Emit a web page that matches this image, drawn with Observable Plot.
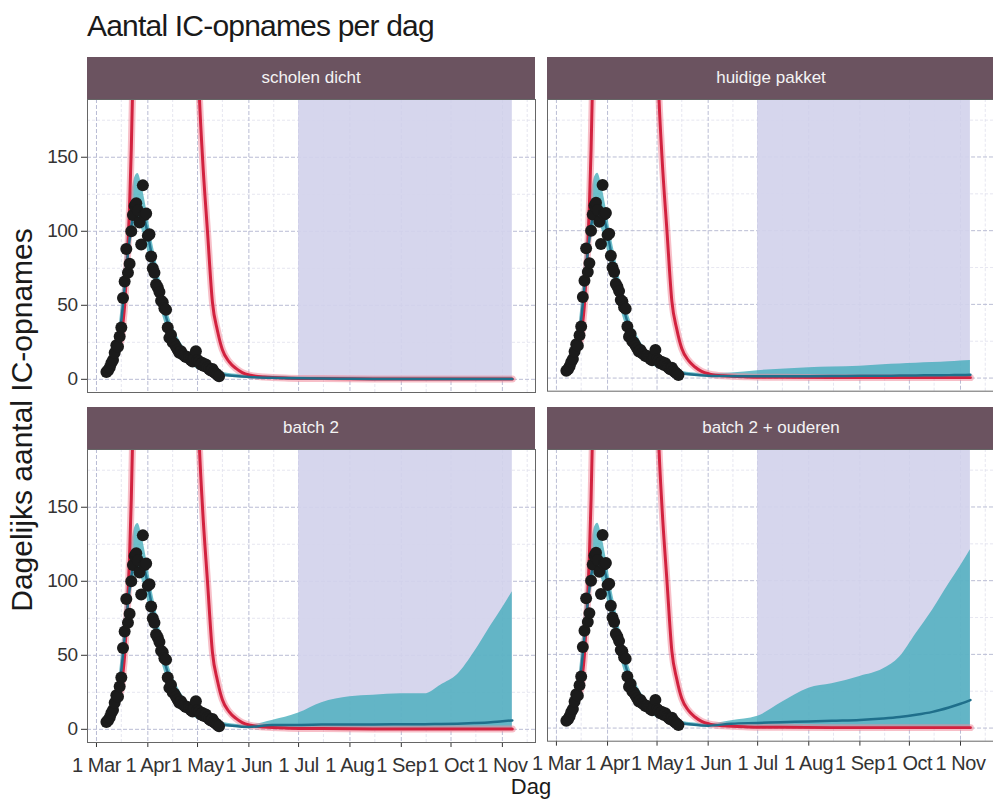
<!DOCTYPE html>
<html><head><meta charset="utf-8">
<script src="https://cdn.jsdelivr.net/npm/d3@7"></script>
<script src="https://cdn.jsdelivr.net/npm/@observablehq/plot@0.6"></script>
<style>
body{margin:0;background:#fff;font-family:"Liberation Sans",Arial,sans-serif;}
#root{position:relative;width:993px;height:806px;overflow:hidden;background:#fff;}
.title{position:absolute;left:87px;top:11px;font-size:30px;line-height:1;letter-spacing:-0.8px;color:#1a1a1a;white-space:nowrap;}
.strip{position:absolute;height:42px;background:#6b5360;color:#f4f4f4;font-size:17px;display:flex;align-items:center;justify-content:center;}
.panel{position:absolute;}
.panel svg{overflow:visible;}
.ytitle{position:absolute;left:22px;top:420px;transform:translate(-50%,-50%) rotate(-90deg);font-size:30px;line-height:1;white-space:nowrap;color:#1a1a1a;}
.xtitle{position:absolute;left:531px;top:776px;transform:translateX(-50%);font-size:22px;line-height:1;color:#1a1a1a;}
</style></head><body><div id="root"></div><script>
// ---------- data ----------
const scenarios = ["scholen dicht", "huidige pakket", "batch 2", "batch 2 + ouderen"];
const tickDates = ["2020-03-01","2020-04-01","2020-05-01","2020-06-01","2020-07-01","2020-08-01","2020-09-01","2020-10-01","2020-11-01"];
const minorDates = ["2020-03-16","2020-04-16","2020-05-16","2020-06-16","2020-07-16","2020-08-16","2020-09-16","2020-10-16","2020-11-16"];
const yTicks = [0, 50, 100, 150];
const yMinor = [25, 75, 125, 175];
const shadeStart = "2020-07-01", shadeEnd = "2020-11-07";

// observed daily IC admissions, one value per day from obsStart
const obsStart = "2020-03-07";
const obsValues = [5,6,8,11,13,18,23,22,29,35,55,66,88,72,78,100,111,117,119,114,106,91,131,111,112,
  97,98,83,75,72,64,62,59,53,52,48,47,35,28,30,25,24,22,20,18,19,17,16,15,15,14,13,12,14,19,
  13,12,10,11,9,10,8,7,6,7,5,4,3,2];

// model fit (common to all scenarios) up to 1 June
const fitDates = ["2020-03-06","2020-03-09","2020-03-12","2020-03-14","2020-03-16","2020-03-18","2020-03-20","2020-03-22","2020-03-24","2020-03-26","2020-03-28","2020-03-30","2020-04-01","2020-04-03","2020-04-05","2020-04-08","2020-04-11","2020-04-14","2020-04-18","2020-04-22","2020-04-26","2020-05-01","2020-05-06","2020-05-11","2020-05-16","2020-05-22","2020-06-01"];
const fitMid  = [4,8,15,24,40,62,85,103,114,118,115,108,98,86,75,60,46,35,25,18,13.5,9,6.5,4.5,3.3,2.4,1.6];
const fitLow  = [3,6,12,19,33,52,74,92,102,106,102,96,86,75,64,51,39,29,20.5,14.5,10.5,6.8,4.8,3.2,2.2,1.4,0.9];
const fitHigh = [6,11,19,30,50,78,104,124,136,139,133,122,110,97,86,70,55,42,31,23,17,11.8,8.6,6.2,4.7,3.6,3];

// scenario projections after 1 June
const projDates = ["2020-06-15","2020-07-01","2020-07-15","2020-08-01","2020-08-15","2020-09-01","2020-09-15","2020-09-25","2020-10-05","2020-10-15","2020-10-25","2020-11-01","2020-11-07"];
const projLow = [0.5,0.3,0.2,0.2,0.2,0.2,0.2,0.2,0.2,0.2,0.2,0.2,0.2];
const scholenMid  = [1.0,0.7,0.5,0.4,0.3,0.3,0.2,0.2,0.2,0.2,0.2,0.2,0.2];
const scholenHigh = [2.2,1.8,1.6,1.5,1.5,1.5,1.5,1.5,1.5,1.5,1.5,1.5,1.5];
const huidigMid   = [1.3,1.2,1.2,1.3,1.4,1.5,1.6,1.7,1.8,1.9,2.0,2.1,2.2];
const huidigHigh  = [3.5,5,6,7,7.5,8,9,9.5,10,10.5,11,11.5,12];
const batchMid    = [3,3,3.2,3.3,3.3,3.4,3.5,3.6,3.8,4.2,4.8,5.5,6];
const batchHigh   = [6,11,18,22,23,24,24,30,37,52,70,82,93];
const ouderenMid  = [3,3.5,4,4.5,5,5.5,6.5,7.5,9,11,14,16.5,19];
const ouderenHigh = [5,8,17,27,30,35,40,48,64,80,98,110,121];

// unmitigated scenario (red)
const redDates  = ["2020-03-06","2020-03-10","2020-03-13","2020-03-16","2020-03-17","2020-03-18","2020-03-19","2020-03-20","2020-03-21","2020-03-22","2020-03-23","2020-03-25","2020-04-15","2020-04-28","2020-05-01","2020-05-02","2020-05-04","2020-05-07","2020-05-10","2020-05-13","2020-05-16","2020-05-20","2020-05-24","2020-05-28","2020-06-02","2020-06-10","2020-06-25","2020-07-15","2020-08-15","2020-09-15","2020-10-15","2020-11-07"];
const redValues = [4,10,19,27,38,50,70,88,118,155,205,330,700,330,230,195,150,100,52,33,20,12,7.5,4.5,2.7,1.5,0.8,0.5,0.3,0.3,0.3,0.3];

// ---------- helpers / tables ----------
const P = d3.isoParse;
const xDomain = [new Date(Date.UTC(2020,1,24,14)), new Date(Date.UTC(2020,10,21,0))];
const yDomain = [-8.9, 189];
const fmt = d3.utcFormat("%-d %b");
const midMap  = {"scholen dicht": scholenMid, "huidige pakket": huidigMid, "batch 2": batchMid, "batch 2 + ouderen": ouderenMid};
const highMap = {"scholen dicht": scholenHigh, "huidige pakket": huidigHigh, "batch 2": batchHigh, "batch 2 + ouderen": ouderenHigh};

const obs = obsValues.map((v, i) => ({date: d3.utcDay.offset(P(obsStart), i), value: v}));
const red = redDates.map((d, i) => ({date: P(d), value: redValues[i]}));
function seriesFor(s) {
  const a = fitDates.map((d, i) => ({date: P(d), mid: fitMid[i], low: fitLow[i], high: fitHigh[i]}));
  const b = projDates.map((d, i) => ({date: P(d), mid: midMap[s][i], low: projLow[i], high: highMap[s][i]}));
  return a.concat(b);
}

const root = document.getElementById("root");
function addDiv(cls, text, style) {
  const d = document.createElement("div");
  d.className = cls; d.textContent = text;
  Object.assign(d.style, style || {});
  root.appendChild(d); return d;
}
addDiv("title", "Aantal IC-opnames per dag");
addDiv("ytitle", "Dagelijks aantal IC-opnames");
addDiv("xtitle", "Dag");

const PW = 448, PH = 293;
scenarios.forEach((s, k) => {
  const col = k % 2, row = Math.floor(k / 2);
  const left = col === 0, bottom = row === 1;
  const px = left ? 87 : 547;
  const py = row === 0 ? 99 : 449;
  const mL = left ? 87 : 0, mB = bottom ? 50 : 0;
  addDiv("strip", s, {left: px + "px", top: (py - 42) + "px", width: PW + "px"});
  const ser = seriesFor(s);
  const curve = "monotone-x";
  const svg = Plot.plot({
    width: PW + mL, height: PH + mB,
    marginLeft: mL, marginRight: 0, marginTop: 0, marginBottom: mB,
    style: {fontFamily: "Liberation Sans, Arial, sans-serif", fontSize: "18px", color: "#333", background: "transparent", overflow: "visible"},
    x: {type: "utc", domain: xDomain, ticks: tickDates.map(P), tickFormat: fmt, tickSize: 5, tickPadding: 10, axis: bottom ? "bottom" : null, label: null},
    y: {domain: yDomain, ticks: yTicks, tickSize: 6, tickPadding: 4, axis: left ? "left" : null, label: null},
    marks: [
      Plot.ruleY(yMinor, {stroke: "#dfe0ec", strokeWidth: 0.8, strokeDasharray: "3,2"}),
      Plot.ruleX(minorDates.map(P), {stroke: "#dfe0ec", strokeWidth: 0.8, strokeDasharray: "3,2"}),
      Plot.ruleY(yTicks, {stroke: "#b9bcd4", strokeWidth: 1, strokeDasharray: "4,2"}),
      Plot.ruleX(tickDates.map(P), {stroke: "#b9bcd4", strokeWidth: 1, strokeDasharray: "4,2"}),
      Plot.rect([{a: P(shadeStart), b: P(shadeEnd)}], {x1: "a", x2: "b", y1: 0, y2: yDomain[1], fill: "#d3d3ec", fillOpacity: 0.92}),
      Plot.areaY(ser, {x: "date", y1: "low", y2: "high", fill: "#3aa8b8", fillOpacity: 0.74, curve}),
      Plot.line(red, {x: "date", y: "value", stroke: "#f08a9a", strokeWidth: 7, strokeOpacity: 0.55, curve, clip: true}),
      Plot.line(red, {x: "date", y: "value", stroke: "#d2223f", strokeWidth: 3, curve, clip: true}),
      Plot.line(ser, {x: "date", y: "mid", stroke: "#1f6f8b", strokeWidth: 2.5, curve}),
      Plot.dot(obs, {x: "date", y: "value", r: 6, fill: "#1b1b1b", stroke: "none"}),
      Plot.frame({stroke: "#666", strokeWidth: 1})
    ]
  });
  svg.querySelectorAll('[aria-label^="x-axis"] text').forEach(t => { t.style.fontSize = "20px"; t.style.letterSpacing = "-0.4px"; t.setAttribute("fill", "#333"); });
  svg.querySelectorAll('[aria-label^="y-axis"] text').forEach(t => { t.style.fontSize = "19px"; t.style.letterSpacing = "-0.5px"; t.setAttribute("fill", "#333"); });
  const wrap = document.createElement("div");
  wrap.className = "panel";
  wrap.style.left = (px - mL) + "px";
  wrap.style.top = py + "px";
  wrap.appendChild(svg);
  root.appendChild(wrap);
});
</script></body></html>
